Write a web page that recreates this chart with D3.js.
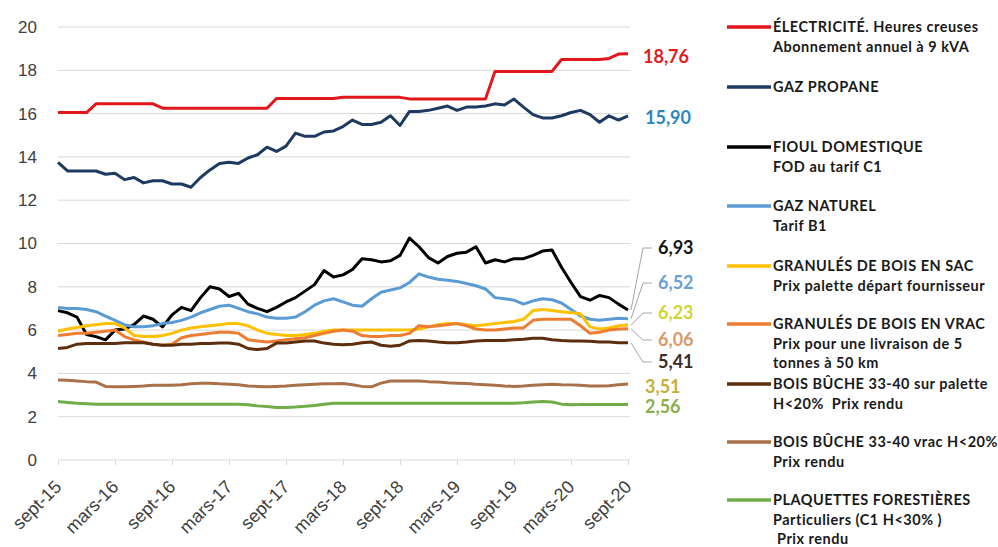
<!DOCTYPE html>
<meta charset="utf-8">
<style type="text/css">
body {
  margin: 0;
  background: #fff;
  font-family: Lato, "Open Sans", sans-serif;
}

.grid line {
  stroke: #d9d9d9;
  stroke-width: 1px;
}

.axis text {
  font-size: 17px;
  fill: #404040;
}

.axis path {
  display: none;
}

.axis line {
  stroke: #d9d9d9;
}

.series {
  fill: none;
  stroke-width: 3px;
  stroke-linejoin: round;
}

.endlabel {
  font-size: 18px;
  font-weight: bold;
}

.leader {
  fill: none;
  stroke: #a6a6a6;
  stroke-width: 1px;
}

.legend text {
  font-size: 14.5px;
  font-weight: bold;
  letter-spacing: 0.5px;
  fill: #1a1a1a;
}
</style>
<body>
</body>
<script src="https://cdn.jsdelivr.net/npm/d3@7"></script>
<script>
// monthly categories, sept-15 .. sept-20
var months = [
  "sept-15", "oct-15", "nov-15", "déc-15", "janv-16", "févr-16",
  "mars-16", "avr-16", "mai-16", "juin-16", "juil-16", "août-16",
  "sept-16", "oct-16", "nov-16", "déc-16", "janv-17", "févr-17",
  "mars-17", "avr-17", "mai-17", "juin-17", "juil-17", "août-17",
  "sept-17", "oct-17", "nov-17", "déc-17", "janv-18", "févr-18",
  "mars-18", "avr-18", "mai-18", "juin-18", "juil-18", "août-18",
  "sept-18", "oct-18", "nov-18", "déc-18", "janv-19", "févr-19",
  "mars-19", "avr-19", "mai-19", "juin-19", "juil-19", "août-19",
  "sept-19", "oct-19", "nov-19", "déc-19", "janv-20", "févr-20",
  "mars-20", "avr-20", "mai-20", "juin-20", "juil-20", "août-20",
  "sept-20"
];

var tickLabels = ["sept-15", "mars-16", "sept-16", "mars-17", "sept-17", "mars-18",
  "sept-18", "mars-19", "sept-19", "mars-20", "sept-20"];

var yTicks = [0, 2, 4, 6, 8, 10, 12, 14, 16, 18, 20];

var electricite = [
  16.05, 16.05, 16.05, 16.05, 16.45, 16.45, 16.45, 16.45, 16.45, 16.45, 16.45, 16.25,
  16.25, 16.25, 16.25, 16.25, 16.25, 16.25, 16.25, 16.25, 16.25, 16.25, 16.25, 16.7,
  16.7, 16.7, 16.7, 16.7, 16.7, 16.7, 16.75, 16.75, 16.75, 16.75, 16.75, 16.75,
  16.75, 16.68, 16.68, 16.68, 16.68, 16.68, 16.68, 16.68, 16.68, 16.68, 17.95, 17.95,
  17.95, 17.95, 17.95, 17.95, 17.95, 18.5, 18.5, 18.5, 18.5, 18.5, 18.55, 18.75,
  18.76
];

var propane = [
  13.75, 13.35, 13.35, 13.35, 13.35, 13.2, 13.25, 12.95, 13.05, 12.8, 12.9, 12.9,
  12.75, 12.75, 12.6, 13.05, 13.4, 13.7, 13.75, 13.7, 13.95, 14.1, 14.45, 14.25,
  14.5, 15.1, 14.95, 14.95, 15.15, 15.2, 15.4, 15.7, 15.5, 15.5, 15.6, 15.9,
  15.45, 16.1, 16.1, 16.15, 16.25, 16.35, 16.15, 16.3, 16.3, 16.35, 16.45, 16.4,
  16.67, 16.3, 15.95, 15.8, 15.8, 15.9, 16.05, 16.15, 15.95, 15.6, 15.9, 15.7,
  15.9
];

var fioul = [
  6.9, 6.8, 6.6, 5.8, 5.7, 5.55, 6.0, 6.05, 6.25, 6.65, 6.5, 6.15,
  6.7, 7.05, 6.9, 7.5, 8.0, 7.9, 7.55, 7.7, 7.2, 7.0, 6.85, 7.05,
  7.3, 7.5, 7.8, 8.1, 8.75, 8.45, 8.55, 8.8, 9.3, 9.25, 9.15, 9.2,
  9.45, 10.25, 9.85, 9.35, 9.1, 9.4, 9.55, 9.6, 9.85, 9.1, 9.25, 9.15,
  9.3, 9.3, 9.45, 9.65, 9.7, 8.9, 8.2, 7.55, 7.38, 7.6, 7.5, 7.2,
  6.93
];

var gazNaturel = [
  7.05, 7.0, 7.0, 6.95, 6.85, 6.65, 6.45, 6.25, 6.15, 6.15, 6.2, 6.3,
  6.35, 6.45, 6.6, 6.8, 6.95, 7.1, 7.15, 7.0, 6.85, 6.75, 6.6, 6.55,
  6.55, 6.6, 6.85, 7.15, 7.35, 7.45, 7.3, 7.15, 7.1, 7.45, 7.75, 7.85,
  7.95, 8.2, 8.6, 8.45, 8.35, 8.3, 8.25, 8.15, 8.05, 7.9, 7.5, 7.45,
  7.38, 7.2, 7.35, 7.45, 7.4, 7.25, 6.95, 6.65, 6.5, 6.45, 6.5, 6.55,
  6.52
];

var granulesSac = [
  5.95, 6.05, 6.12, 6.2, 6.25, 6.3, 6.3, 6.1, 5.75, 5.7, 5.7, 5.75,
  5.85, 6.0, 6.1, 6.15, 6.2, 6.25, 6.3, 6.3, 6.2, 6.0, 5.85, 5.8,
  5.75, 5.75, 5.8, 5.85, 5.95, 6.0, 6.0, 6.0, 6.0, 6.0, 6.0, 6.0,
  6.0, 6.0, 6.05, 6.15, 6.25, 6.3, 6.3, 6.25, 6.2, 6.25, 6.3, 6.35,
  6.4, 6.5, 6.9, 6.95, 6.9, 6.85, 6.8, 6.75, 6.15, 6.05, 6.1, 6.2,
  6.23
];

var granulesVrac = [
  5.75, 5.8, 5.85, 5.85, 5.9, 5.95, 6.0, 5.7, 5.55, 5.45, 5.35, 5.3,
  5.35, 5.65, 5.75, 5.8, 5.85, 5.9, 5.9, 5.85, 5.55, 5.5, 5.45, 5.5,
  5.55, 5.6, 5.65, 5.75, 5.85, 5.95, 6.0, 5.95, 5.75, 5.7, 5.7, 5.75,
  5.75, 5.85, 6.2, 6.15, 6.2, 6.25, 6.3, 6.2, 6.05, 6.0, 6.0, 6.05,
  6.1, 6.1, 6.45, 6.5, 6.5, 6.5, 6.5, 6.2, 5.85, 5.9, 6.0, 6.05,
  6.06
];

var buchepalette = [
  5.15, 5.2, 5.35, 5.38, 5.38, 5.38, 5.38, 5.42, 5.42, 5.42, 5.35, 5.3,
  5.3, 5.35, 5.35, 5.38, 5.38, 5.4, 5.4, 5.35, 5.15, 5.1, 5.15, 5.4,
  5.4, 5.45, 5.5, 5.5, 5.4, 5.35, 5.32, 5.35, 5.42, 5.45, 5.3, 5.25,
  5.3, 5.5, 5.52, 5.5, 5.45, 5.42, 5.42, 5.45, 5.5, 5.52, 5.52, 5.52,
  5.55, 5.58, 5.62, 5.62, 5.55, 5.52, 5.5, 5.5, 5.48, 5.45, 5.45, 5.42,
  5.41
];

var bucheVrac = [
  3.7, 3.68, 3.65, 3.62, 3.6, 3.4, 3.38, 3.38, 3.4, 3.42, 3.45, 3.45,
  3.45, 3.48, 3.52, 3.55, 3.55, 3.52, 3.5, 3.48, 3.42, 3.4, 3.38, 3.4,
  3.42, 3.45, 3.48, 3.5, 3.52, 3.52, 3.53, 3.48, 3.4, 3.38, 3.55, 3.65,
  3.65, 3.65, 3.65, 3.62, 3.6, 3.57, 3.55, 3.53, 3.5, 3.48, 3.45, 3.42,
  3.4, 3.42, 3.45, 3.48, 3.5, 3.48, 3.47, 3.45, 3.42, 3.42, 3.43, 3.48,
  3.51
];

var plaquettes = [
  2.7, 2.66, 2.62, 2.6, 2.58, 2.58, 2.58, 2.58, 2.58, 2.58, 2.58, 2.58,
  2.58, 2.58, 2.58, 2.58, 2.58, 2.58, 2.58, 2.58, 2.55, 2.5, 2.47, 2.43,
  2.43, 2.45, 2.48, 2.52, 2.58, 2.62, 2.62, 2.62, 2.62, 2.62, 2.62, 2.62,
  2.62, 2.62, 2.62, 2.62, 2.62, 2.62, 2.62, 2.62, 2.62, 2.62, 2.62, 2.62,
  2.62, 2.64, 2.68, 2.7, 2.68, 2.58, 2.55, 2.56, 2.56, 2.56, 2.56, 2.56,
  2.56
];

var legendLabels = [
  ["ÉLECTRICITÉ. Heures creuses", "Abonnement annuel à 9 kVA"],
  ["GAZ PROPANE"],
  ["FIOUL DOMESTIQUE", "FOD au tarif C1"],
  ["GAZ NATUREL", "Tarif B1"],
  ["GRANULÉS DE BOIS EN SAC", "Prix palette départ fournisseur"],
  ["GRANULÉS DE BOIS EN VRAC", "Prix pour une livraison de 5", "tonnes à 50 km"],
  ["BOIS BÛCHE 33-40 sur palette", "H<20%  Prix rendu"],
  ["BOIS BÛCHE 33-40 vrac H<20%", "Prix rendu"],
  ["PLAQUETTES FORESTIÈRES", "Particuliers (C1 H<30% )", " Prix rendu"]
];

var seriesData = [electricite, propane, fioul, gazNaturel, granulesSac,
  granulesVrac, buchepalette, bucheVrac, plaquettes];

// styles / layout
var colors = ["#e3161b", "#1f3a60", "#000000", "#5b9bd5", "#ffc000",
  "#ed7d31", "#5c2e0e", "#a8714a", "#70ad47"];
var labelColors = ["#e0201b", "#2b86bd", "#151515", "#6b9fd6", "#d3d52f",
  "#d99a6b", "#3f2b20", "#c8ae3a", "#8cad4a"];
var labelX = [643, 645, 658, 658, 658, 658, 658, 645, 645];
var labelY = [57, 118, 248, 283, 313, 340, 362, 387, 407];
var hasLeader = [false, false, true, true, true, true, true, false, false];
var legendY = [27, 87, 147, 206, 266, 324, 384, 442, 500];

var width = 998, height = 547;

var svg = d3.select("body")
  .append("svg")
    .attr("width", width)
    .attr("height", height);

var x = d3.scalePoint()
  .domain(months)
  .range([58, 628]);

var y = d3.scaleLinear()
  .domain([0, 20])
  .range([460, 27]);

var fmt = d3.format(".2f");

// gridlines
svg.append("g")
  .attr("class", "grid")
  .selectAll("line")
  .data(yTicks)
  .enter().append("line")
    .attr("x1", 58)
    .attr("x2", 630)
    .attr("y1", function(d) { return y(d); })
    .attr("y2", function(d) { return y(d); });

var yAxis = d3.axisLeft(y)
  .tickValues(yTicks)
  .tickSize(0)
  .tickPadding(0)
  .tickFormat(d3.format("d"));

svg.append("g")
  .attr("class", "y axis")
  .attr("transform", "translate(37,0)")
  .call(yAxis);

var xAxis = d3.axisBottom(x)
  .tickValues(tickLabels)
  .tickSize(5);

var gx = svg.append("g")
  .attr("class", "x axis")
  .attr("transform", "translate(0," + y(0) + ")")
  .call(xAxis);

gx.selectAll("text")
  .style("font-size", "18px")
  .attr("text-anchor", "end")
  .attr("dy", null)
  .attr("y", null)
  .attr("transform", "translate(4,28) rotate(-45)");

var line = d3.line()
  .x(function(d, i) { return x(months[i]); })
  .y(function(d) { return y(d); });

svg.selectAll("path.series")
  .data(seriesData)
  .enter().append("path")
    .attr("class", "series")
    .style("stroke", function(d, i) { return colors[i]; })
    .attr("d", line);

// end labels
var last = months[months.length - 1];
seriesData.forEach(function(s, i) {
  var v = s[s.length - 1];
  if (hasLeader[i]) {
    svg.append("path")
      .attr("class", "leader")
      .attr("d", d3.line()([
        [x(last) + 3, y(v)],
        [labelX[i] - 15, labelY[i]],
        [labelX[i] - 6, labelY[i]]
      ]));
  }
  svg.append("text")
    .attr("class", "endlabel")
    .attr("x", labelX[i])
    .attr("y", labelY[i])
    .attr("dy", "0.35em")
    .style("fill", labelColors[i])
    .text(fmt(v).replace(".", ","));
});

// legend
var legend = svg.append("g").attr("class", "legend");

legendLabels.forEach(function(lines, i) {
  var g = legend.append("g")
    .attr("transform", "translate(0," + legendY[i] + ")");
  g.append("line")
    .attr("x1", 727)
    .attr("x2", 771)
    .style("stroke", colors[i])
    .style("stroke-width", 3.5);
  g.selectAll("text")
    .data(lines)
    .enter().append("text")
      .attr("x", 773)
      .attr("y", function(d, j) { return j * 19.5; })
      .attr("dy", "0.35em")
      .style("white-space", "pre")
      .text(function(d) { return d; });
});
</script>
